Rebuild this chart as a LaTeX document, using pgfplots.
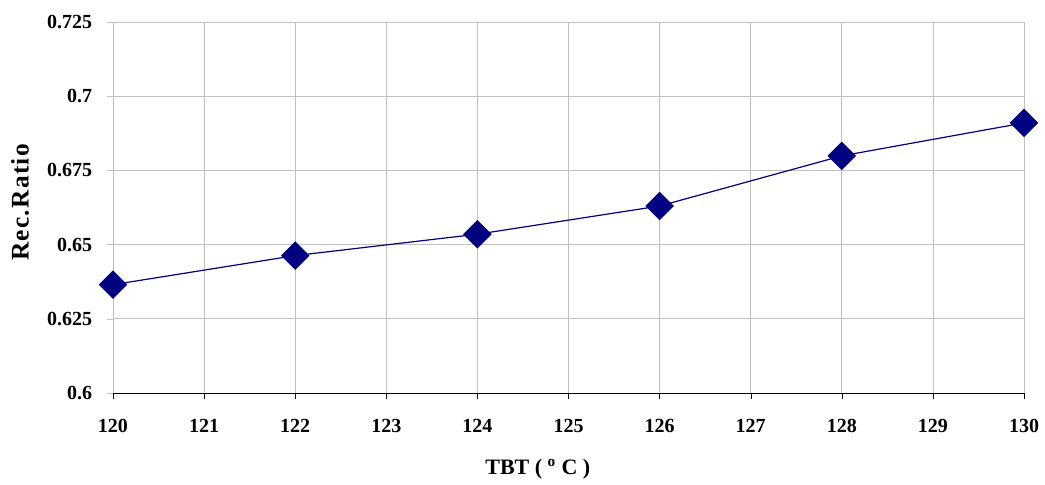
\documentclass[border=0pt]{standalone}
\usepackage{pgfplots}
\pgfplotsset{compat=1.18}
\usepackage{fontspec}
\setmainfont{Liberation Serif}
\newfontfamily\ylabfont[LetterSpace=5]{Liberation Serif}
\definecolor{navyc}{HTML}{000080}
\definecolor{gridc}{HTML}{C0C0C0}
\begin{document}
\begin{tikzpicture}
\begin{axis}[
  name=ax,
  scale only axis,
  width=683.25pt, height=278.25pt,
  xmin=120, xmax=130, ymin=0.6, ymax=0.725,
  xtick={120,121,...,130},
  ytick={0.6,0.625,0.65,0.675,0.7,0.725},
  yticklabels={0.6,0.625,0.65,0.675,0.7,0.725},
  xticklabels={120,121,122,123,124,125,126,127,128,129,130},
  axis x line*=bottom, axis y line*=left,
  x axis line style={black,-},
  y axis line style={gridc,-},
  xtick style={black},
  ytick style={gridc},
  tick align=outside,
  major tick length=4.5pt,
  grid=major,
  major grid style={gridc, line width=0.6pt},
  tick label style={font=\fontsize{15}{16}\selectfont\bfseries},
  /pgf/number format/assume math mode=true,
  xticklabel style={anchor=center, yshift=-20.5pt},
  yticklabel style={anchor=east, inner sep=0pt, xshift=-11pt},
  xlabel={TBT ( \textsuperscript{o} C )},
  ylabel={Rec.Ratio},
  xlabel style={font=\fontsize{16.5}{18}\selectfont\bfseries, at={(axis description cs:0.5,0)}, anchor=center, yshift=-57pt, xshift=-23pt},
  ylabel style={font=\fontsize{19}{20}\selectfont\bfseries\ylabfont, at={(axis description cs:0,0.5)}, anchor=center, yshift=69.75pt, xshift=3.75pt},
  clip=false,
]
\addplot[navyc, line width=0.9pt, mark=square*, mark size=7.1pt,
  mark options={rotate=45, fill=navyc, draw=navyc}]
  coordinates {(120,0.6365) (122,0.6463) (124,0.6535) (126,0.663) (128,0.6799) (130,0.691)};
\end{axis}
\pgfresetboundingbox
\path[use as bounding box] ([xshift=-84.75pt,yshift=-69pt]ax.south west) rectangle ([xshift=15.75pt,yshift=16.5pt]ax.north east);
\end{tikzpicture}
\end{document}
